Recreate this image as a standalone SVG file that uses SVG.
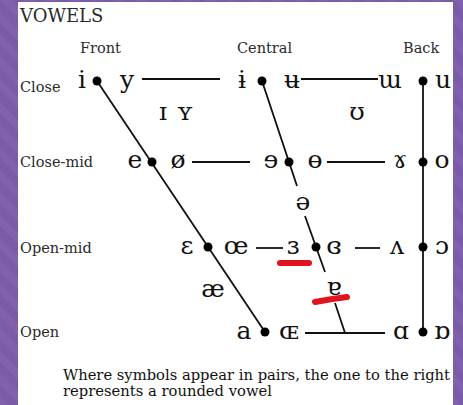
<svg xmlns="http://www.w3.org/2000/svg" width="463" height="405" viewBox="0 0 463 405">
<defs>
<pattern id="stripes" width="16" height="16" patternUnits="userSpaceOnUse" patternTransform="rotate(-45)">
<rect width="16" height="16" fill="#7a5ba7"/>
<rect width="8" height="16" fill="#8161ad"/>
</pattern>
<style>
.lbl{font-family:"DejaVu Serif","Liberation Serif",serif;font-size:14.5px;fill:#2a2a2a}
.sym{font-family:"DejaVu Serif","Liberation Serif",serif;font-size:25px;fill:#111;text-anchor:middle}
.ln{stroke:#111;stroke-width:1.8;fill:none}
.dot{fill:#000}
.red{stroke:#e3121f;stroke-width:6;stroke-linecap:round;fill:none}
.foot{font-family:"DejaVu Serif","Liberation Serif",serif;font-size:14px;fill:#111}
</style>
</defs>
<rect width="463" height="405" fill="url(#stripes)"/>
<rect x="18" y="2" width="435" height="403" fill="#fff"/>
<text x="20" y="22" class="lbl" style="font-size:18px">VOWELS</text>
<g id="headers">
<text x="80" y="53" class="lbl">Front</text>
<text x="237" y="53" class="lbl">Central</text>
<text x="403" y="53" class="lbl">Back</text>
</g>
<g id="rowlabels">
<text x="20" y="92" class="lbl">Close</text>
<text x="20" y="167" class="lbl">Close-mid</text>
<text x="20" y="253" class="lbl">Open-mid</text>
<text x="20" y="337" class="lbl">Open</text>
</g>
<g id="connectors">
<line class="ln" x1="142" y1="79" x2="220" y2="79"/>
<line class="ln" x1="301" y1="79" x2="378" y2="79"/>
<line class="ln" x1="192" y1="162" x2="250" y2="162"/>
<line class="ln" x1="327" y1="162" x2="385" y2="162"/>
<line class="ln" x1="256" y1="248" x2="283" y2="248"/>
<line class="ln" x1="355" y1="248" x2="380" y2="248"/>
<line class="ln" x1="305" y1="333" x2="385" y2="333"/>
<line class="ln" x1="97" y1="81" x2="265" y2="332"/>
<line class="ln" x1="262" y1="81" x2="297" y2="186"/>
<line class="ln" x1="305" y1="216" x2="325" y2="272"/>
<line class="ln" x1="335" y1="303" x2="345" y2="333"/>
<line class="ln" x1="423" y1="81" x2="423" y2="332"/>
</g>
<g id="dots">
<circle class="dot" cx="97" cy="81" r="4.5"/>
<circle class="dot" cx="262" cy="81" r="4.5"/>
<circle class="dot" cx="423" cy="81" r="4.5"/>
<circle class="dot" cx="152" cy="162" r="4.5"/>
<circle class="dot" cx="289" cy="162" r="4.5"/>
<circle class="dot" cx="423" cy="162" r="4.5"/>
<circle class="dot" cx="208" cy="247" r="4.5"/>
<circle class="dot" cx="316" cy="247" r="4.5"/>
<circle class="dot" cx="423" cy="247" r="4.5"/>
<circle class="dot" cx="265" cy="332" r="4.5"/>
<circle class="dot" cx="423" cy="332" r="4.5"/>
</g>
<g id="close">
<text class="sym" x="82" y="88">i</text>
<text class="sym" x="127" y="88">y</text>
<text class="sym" x="242" y="88">ɨ</text>
<text class="sym" x="292" y="88">ʉ</text>
<text class="sym" x="390" y="88">ɯ</text>
<text class="sym" x="443" y="88">u</text>
</g>
<g id="nearclose">
<text class="sym" x="163" y="120">ɪ</text>
<text class="sym" x="185" y="120">ʏ</text>
<text class="sym" x="357" y="120">ʊ</text>
</g>
<g id="closemid">
<text class="sym" x="135" y="168">e</text>
<text class="sym" x="178" y="168">ø</text>
<text class="sym" x="271" y="168">ɘ</text>
<text class="sym" x="315" y="168">ɵ</text>
<text class="sym" x="400" y="168">ɤ</text>
<text class="sym" x="442" y="168">o</text>
</g>
<g id="mid">
<text class="sym" x="303" y="210">ə</text>
</g>
<g id="openmid">
<text class="sym" x="187" y="254">ɛ</text>
<text class="sym" x="236" y="254">œ</text>
<text class="sym" x="293" y="254">ɜ</text>
<text class="sym" x="334" y="254">ɞ</text>
<text class="sym" x="397" y="254">ʌ</text>
<text class="sym" x="442" y="254">ɔ</text>
</g>
<g id="nearopen">
<text class="sym" x="213" y="297">æ</text>
<text class="sym" x="334" y="295">ɐ</text>
</g>
<g id="open">
<text class="sym" x="244" y="339">a</text>
<text class="sym" x="289" y="339">ɶ</text>
<text class="sym" x="401" y="339">ɑ</text>
<text class="sym" x="442" y="339">ɒ</text>
</g>
<g id="marks">
<line class="red" x1="280" y1="263" x2="309" y2="263"/>
<path class="red" d="M315 302 Q330 299 347 297"/>
</g>
<g id="footer">
<text class="foot" x="63" y="380" textLength="387" lengthAdjust="spacingAndGlyphs">Where symbols appear in pairs, the one to the right</text>
<text class="foot" x="63" y="396" textLength="209" lengthAdjust="spacingAndGlyphs">represents a rounded vowel</text>
</g>
</svg>
